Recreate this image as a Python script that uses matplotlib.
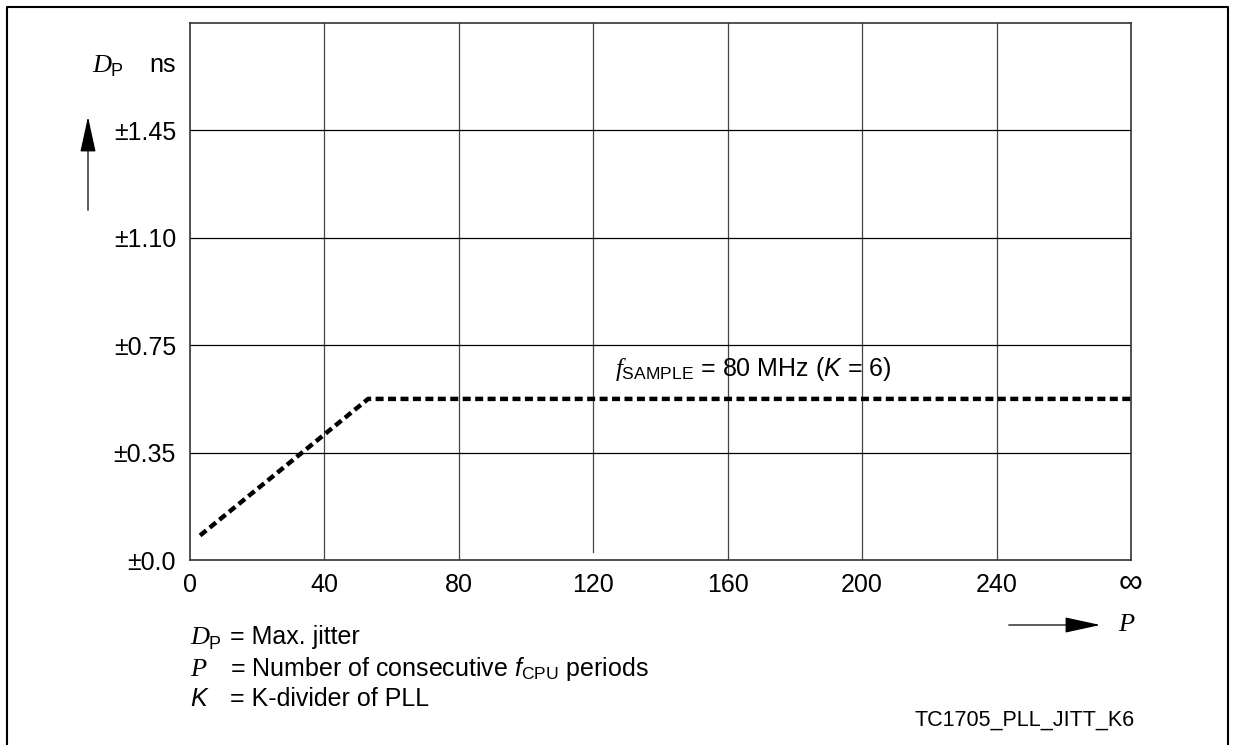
import matplotlib.pyplot as plt
import numpy as np
from matplotlib.lines import Line2D
from matplotlib.patches import FancyArrowPatch

plt.rcParams['font.family'] = ['Liberation Sans', 'DejaVu Sans']
plt.rcParams['mathtext.fontset'] = 'custom'
plt.rcParams['mathtext.rm'] = 'Liberation Sans'
plt.rcParams['mathtext.it'] = 'Liberation Serif:italic'
plt.rcParams['mathtext.sf'] = 'Liberation Sans:italic'

# datos
P = [3, 53, 280]            # 280 = posicion de "infinito"
Dp = [0.08, 0.55, 0.55]     # ns

x_ticks = [0, 40, 80, 120, 160, 200, 240, 280]
x_labels = ['0', '40', '80', '120', '160', '200', '240', '∞']
y_vals = [0.0, 0.35, 0.75, 1.10, 1.45, 1.80]   # escala no lineal, grilla pareja
y_labels = ['±0.0', '±0.35', '±0.75', '±1.10', '±1.45', '']

FS = 18
W, H = 1233, 745
fig = plt.figure(figsize=(W / 100, H / 100), dpi=100)

def fx(px):
    return px / W

def fy(py):
    return 1 - py / H

ax = fig.add_axes([fx(190), fy(560), fx(1131) - fx(190), fy(23) - fy(560)])

def ypos(v):
    return np.interp(v, y_vals, np.arange(len(y_vals)))

ax.set_xlim(0, 280)
ax.set_ylim(0, 5)
ax.set_xticks(x_ticks)
ax.set_xticklabels(x_labels)
ax.set_yticks(range(len(y_vals)))
ax.set_yticklabels(y_labels)
ax.tick_params(length=0, labelsize=FS, pad=10)
ax.tick_params(axis='x', pad=9)
inf_lbl = ax.get_xticklabels()[-1]
inf_lbl.set_fontsize(24)
inf_lbl.set_y(0.008)
for s in ax.spines.values():
    s.set_linewidth(1.2)
    s.set_color('#333333')

# grilla
for xt in x_ticks[1:-1]:
    y0 = 0.07 if xt == 120 else 0
    ax.plot([xt, xt], [y0, 5], color='#444444', lw=0.9, zorder=1)
for yt in range(1, 5):
    ax.axhline(yt, color='black', lw=0.9, zorder=1)

ax.plot(P, ypos(np.array(Dp)), color='black', lw=3.2, linestyle=(0, (1.8, 1.0)),
        dash_capstyle='butt', solid_joinstyle='round', zorder=3)

ax.text(126.5, ypos(0.55) + 0.21, r'$f_{\mathrm{SAMPLE}}$ = 80 MHz ($\mathsf{K}$ = 6)',
        fontsize=FS, va='baseline', ha='left')

# eje y: titulo y flecha
fig.text(fx(92), fy(72), 'D', family='Liberation Serif', style='italic', fontsize=19, va='baseline')
fig.text(fx(110), fy(76), 'P', fontsize=13, va='baseline')
fig.text(fx(149), fy(72), 'ns', fontsize=FS, va='baseline')
fig.add_artist(FancyArrowPatch(
    (fx(88), fy(213)), (fx(88), fy(114)), transform=fig.transFigure,
    arrowstyle='-|>,head_length=1.6,head_width=0.35', mutation_scale=14,
    color='black', lw=0.9))

# eje x: flecha y P
fig.add_artist(FancyArrowPatch(
    (fx(1006), fy(625)), (fx(1103), fy(625)), transform=fig.transFigure,
    arrowstyle='-|>,head_length=1.6,head_width=0.35', mutation_scale=14,
    color='black', lw=0.9))
fig.text(fx(1118), fy(625), 'P', family='Liberation Serif', style='italic', fontsize=19, va='center')

# leyenda
fig.text(fx(190), fy(644), 'D', family='Liberation Serif', style='italic', fontsize=19, va='baseline')
fig.text(fx(209), fy(649), 'P', fontsize=13, va='baseline')
fig.text(fx(230), fy(644), '= Max. jitter', fontsize=FS, va='baseline')
fig.text(fx(190), fy(676), 'P', family='Liberation Serif', style='italic', fontsize=19, va='baseline')
fig.text(fx(230), fy(676), r'= Number of consecutive $\mathsf{f}_{\mathrm{CPU}}$ periods',
         fontsize=FS, va='baseline')
fig.text(fx(190), fy(706), 'K', style='italic', fontsize=FS, va='baseline')
fig.text(fx(230), fy(706), '= K-divider of PLL', fontsize=FS, va='baseline')

fig.text(fx(1135), fy(720), 'TC1705_PLL_JITT_K6', fontsize=15.5, ha='right', va='center')

# marco
fig.add_artist(Line2D([fx(7), fx(7), fx(1228), fx(1228)], [0, fy(7), fy(7), 0],
                      transform=fig.transFigure, color='black', lw=1.5))

fig.savefig('out.png', dpi=100)
